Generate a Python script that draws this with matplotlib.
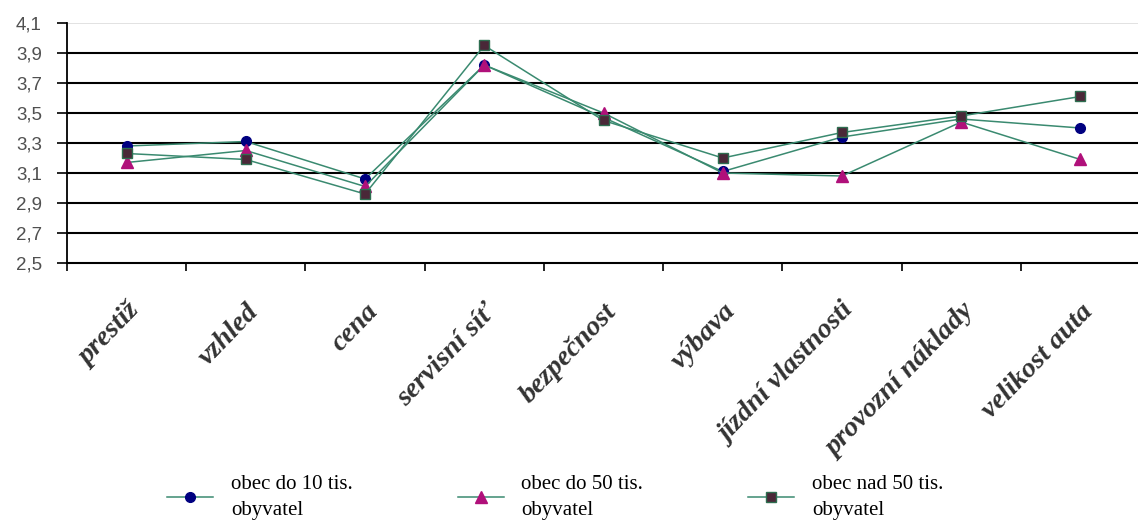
import numpy as np
import matplotlib
matplotlib.use("Agg")
import matplotlib.pyplot as plt
from matplotlib.ticker import FixedLocator

categories = ["prestiž", "vzhled", "cena", "servisní síť", "bezpečnost",
              "výbava", "jízdní vlastnosti", "provozní náklady", "velikost auta"]

obec_10 = [3.28, 3.31, 3.06, 3.82, 3.47, 3.11, 3.34, 3.46, 3.40]
obec_50 = [3.17, 3.25, 3.01, 3.82, 3.50, 3.10, 3.08, 3.44, 3.19]
obec_nad50 = [3.23, 3.19, 2.96, 3.95, 3.45, 3.20, 3.37, 3.48, 3.61]

labels = ["obec do 10 tis.\nobyvatel", "obec do 50 tis.\nobyvatel", "obec nad 50 tis.\nobyvatel"]
yticks = [2.5, 2.7, 2.9, 3.1, 3.3, 3.5, 3.7, 3.9, 4.1]

line_col = "#3a8a70"

fig = plt.figure(figsize=(11.38, 5.22), dpi=100)
ax = fig.add_axes([67 / 1138, 1 - 263 / 522, 1073 / 1138, 240 / 522])

x = np.arange(len(categories))
ax.plot(x, obec_10, '-', color=line_col, lw=1.1, marker='o', ms=7,
        mfc='#000080', mec='#000080', label=labels[0], zorder=3)
ax.plot(x, obec_50, '-', color=line_col, lw=1.1, marker='^', ms=8,
        mfc='#b0107a', mec='#b0107a', label=labels[1], zorder=3)
ax.plot(x, obec_nad50, '-', color=line_col, lw=1.1, marker='s', ms=7,
        mfc='#4a2838', mec='#2e6e50', label=labels[2], zorder=3)

ax.set_xlim(-0.5, len(categories) - 0.5)
ax.set_ylim(2.5, 4.1)
ax.set_yticks(yticks)
ax.set_yticklabels([("%.1f" % v).replace('.', ',') for v in yticks],
                   fontsize=13.5, color='#505050', family='Liberation Sans')
for v in yticks[1:-1]:
    ax.axhline(v, color='black', lw=1.5, zorder=1)
ax.axhline(4.1, color='#dddddd', lw=1.2, zorder=1)

ax.set_xticks(x)
ax.set_xticklabels(categories, rotation=46, ha='right', rotation_mode='anchor',
                   fontsize=20.5, fontweight='bold', fontstyle='italic',
                   family='Liberation Serif', color='#333333')
ax.tick_params(axis='x', which='major', length=0, pad=26)
ax.xaxis.set_minor_locator(FixedLocator(np.arange(-0.5, len(categories), 1.0)))
ax.tick_params(axis='x', which='minor', length=6, width=1.2, direction='out')
ax.tick_params(axis='y', length=7, width=1.2, direction='out', pad=11)

for s in ['top', 'right']:
    ax.spines[s].set_visible(False)
ax.spines['left'].set_linewidth(1.3)
ax.spines['bottom'].set_linewidth(1.5)

leg = fig.legend(loc='lower center', bbox_to_anchor=(0.488, -0.033), ncol=3, frameon=False,
                 prop={'family': 'Liberation Serif', 'size': 15}, columnspacing=5.05,
                 handlelength=2.2, handletextpad=0.85)
for t in leg.get_texts():
    t.set_linespacing(1.55)

fig.savefig("out.png", dpi=100)
